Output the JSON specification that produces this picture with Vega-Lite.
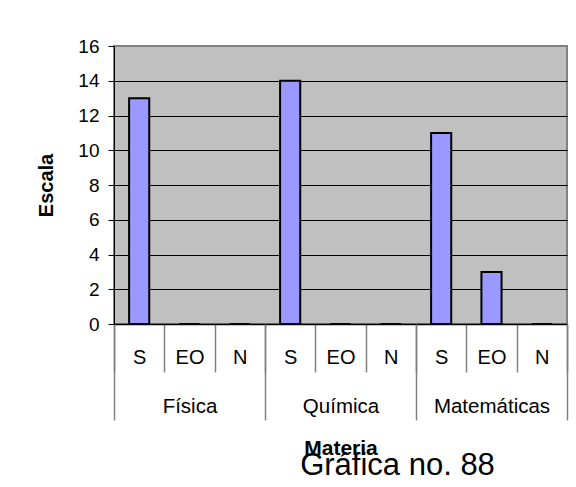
{
  "$schema": "https://vega.github.io/schema/vega-lite/v6.json",
  "width": 453,
  "height": 278,
  "autosize": "none",
  "padding": {"left": 114, "top": 46, "right": 9, "bottom": 163},
  "background": "white",
  "config": {
    "font": "Liberation Sans",
    "view": {"fill": "#C0C0C0", "stroke": "#808080", "strokeWidth": 2}
  },
  "title": {
    "text": "Gráfica no. 88",
    "orient": "bottom",
    "anchor": "middle",
    "fontSize": 31,
    "fontWeight": "normal",
    "color": "#000",
    "dx": 57,
    "offset": -8
  },
  "data": {
    "values": [
      {"Materia": "Física", "Resp": "S", "key": "Física|S", "Valor": 13},
      {"Materia": "Física", "Resp": "EO", "key": "Física|EO", "Valor": 0},
      {"Materia": "Física", "Resp": "N", "key": "Física|N", "Valor": 0},
      {"Materia": "Química", "Resp": "S", "key": "Química|S", "Valor": 14},
      {"Materia": "Química", "Resp": "EO", "key": "Química|EO", "Valor": 0},
      {"Materia": "Química", "Resp": "N", "key": "Química|N", "Valor": 0},
      {"Materia": "Matemáticas", "Resp": "S", "key": "Matemáticas|S", "Valor": 11},
      {"Materia": "Matemáticas", "Resp": "EO", "key": "Matemáticas|EO", "Valor": 3},
      {"Materia": "Matemáticas", "Resp": "N", "key": "Matemáticas|N", "Valor": 0}
    ]
  },
  "encoding": {
    "y": {
      "field": "Valor",
      "type": "quantitative",
      "scale": {"domain": [0, 16]},
      "axis": {
        "title": "Escala",
        "titleFontSize": 20,
        "titleFontWeight": "bold",
        "titleColor": "#000",
        "titlePadding": 21,
        "values": [0, 2, 4, 6, 8, 10, 12, 14, 16],
        "labelOverlap": false,
        "labelFontSize": 19,
        "labelColor": "#000",
        "labelPadding": 9,
        "tickSize": 6,
        "tickColor": "#000",
        "domainColor": "#000",
        "grid": true,
        "gridColor": {"condition": {"test": "datum.value == 16", "value": "#808080"}, "value": "#000"},
        "gridOpacity": 1,
        "gridWidth": 1
      }
    }
  },
  "layer": [
    {
      "mark": {"type": "bar", "fill": "#9999FF", "stroke": "#000", "strokeWidth": 2, "width": {"band": 0.4}},
      "encoding": {
        "x": {
          "field": "key",
          "type": "nominal",
          "sort": null,
          "scale": {"paddingInner": 0, "paddingOuter": 0},
          "axis": {
            "orient": "bottom",
            "title": null,
            "labelExpr": "split(datum.value,'|')[1]",
            "labelAngle": 0,
            "labelFontSize": 20,
            "labelColor": "#000",
            "labelBaseline": "top",
            "labelOverlap": false,
            "tickBand": "extent",
            "tickSize": 48,
            "tickColor": "#808080",
            "tickWidth": 1.5,
            "labelPadding": -25,
            "domainColor": "#000",
            "domainWidth": 1.5
          }
        }
      }
    },
    {
      "mark": {"type": "bar", "opacity": 0},
      "encoding": {
        "x": {
          "field": "Materia",
          "type": "nominal",
          "sort": null,
          "scale": {"paddingInner": 0, "paddingOuter": 0},
          "axis": {
            "orient": "bottom",
            "title": "Materia",
            "titleFontSize": 21,
            "titleFontWeight": "bold",
            "titleColor": "#000",
            "titlePadding": 17,
            "labelAngle": 0,
            "labelFontSize": 20.5,
            "labelColor": "#000",
            "labelBaseline": "top",
            "labelOverlap": false,
            "tickBand": "extent",
            "tickSize": 96,
            "tickColor": "#808080",
            "tickWidth": 1.5,
            "labelPadding": -24,
            "domain": false
          }
        }
      }
    }
  ],
  "resolve": {"scale": {"x": "independent"}}
}
